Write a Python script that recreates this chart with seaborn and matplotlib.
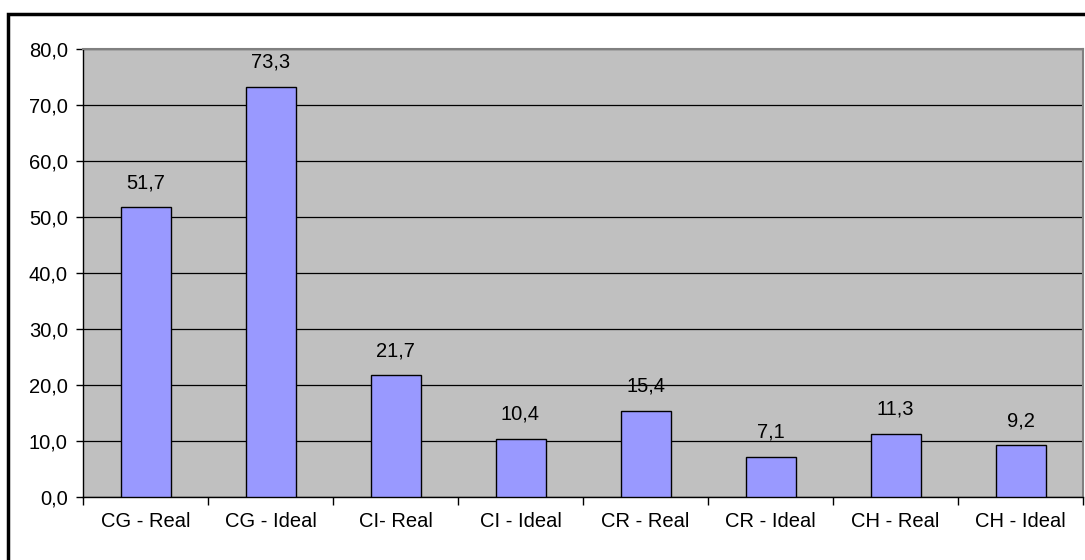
import numpy as np
import pandas as pd
import matplotlib
matplotlib.use('Agg')
import matplotlib.pyplot as plt
import seaborn as sns
from matplotlib.patches import Rectangle

# данные графика
categories = ['CG - Real', 'CG - Ideal', 'CI- Real', 'CI - Ideal',
              'CR - Real', 'CR - Ideal', 'CH - Real', 'CH - Ideal']
values = [51.7, 73.3, 21.7, 10.4, 15.4, 7.1, 11.3, 9.2]
yticks = [0, 10, 20, 30, 40, 50, 60, 70, 80]

df = pd.DataFrame({'cat': categories, 'val': values})

sns.set_style('white')
plt.rcParams['font.family'] = ['Liberation Sans', 'DejaVu Sans']
plt.rcParams['text.color'] = 'black'
plt.rcParams['xtick.color'] = 'black'
plt.rcParams['ytick.color'] = 'black'
plt.rcParams['xtick.bottom'] = True
plt.rcParams['ytick.left'] = True

fig = plt.figure(figsize=(10.85, 5.6), dpi=100)
ax = fig.add_axes([83 / 1085, 63 / 560, 1000 / 1085, 448 / 560])
ax.set_facecolor('#C0C0C0')

sns.barplot(data=df, x='cat', y='val', ax=ax, color='#9999FF', width=0.4,
            edgecolor='black', linewidth=1, saturation=1, zorder=3)

# подписи значений
for i, v in enumerate(values):
    ax.annotate(f'{v:.1f}'.replace('.', ','), (i, v), xytext=(0, 11),
                textcoords='offset points', ha='center', va='bottom',
                fontsize=14.5, color='black')

ax.set_ylim(0, 80)
ax.set_xlim(-0.5, len(categories) - 0.5)
ax.set_yticks(yticks)
ax.set_yticklabels([f'{t:.1f}'.replace('.', ',') for t in yticks], fontsize=14.5)
ax.set_xticks(range(len(categories)))
ax.set_xticklabels(categories, fontsize=14.5)
ax.set_xticks(np.arange(-0.5, len(categories), 1), minor=True)
ax.tick_params(axis='x', which='major', length=0, pad=11, bottom=True)
ax.tick_params(axis='x', which='minor', length=6, width=1, color='black',
               direction='out', bottom=True)
ax.tick_params(axis='y', length=5, width=1, color='black', direction='out', pad=6, left=True)
ax.set_xlabel('')
ax.set_ylabel('')

ax.yaxis.grid(True, color='black', linewidth=0.9, zorder=1)
ax.set_axisbelow(True)

for s in ['left', 'bottom']:
    ax.spines[s].set_color('black')
    ax.spines[s].set_linewidth(1)
for s in ['top', 'right']:
    ax.spines[s].set_color('#808080')
    ax.spines[s].set_linewidth(1.5)

# рамка вокруг диаграммы
fig.patches.append(Rectangle((8 / 1085, -0.1), 1.2, (560 - 14) / 560 + 0.1,
                             transform=fig.transFigure, fill=False,
                             edgecolor='black', linewidth=2.5, zorder=10))

fig.savefig('out.png', dpi=100)
